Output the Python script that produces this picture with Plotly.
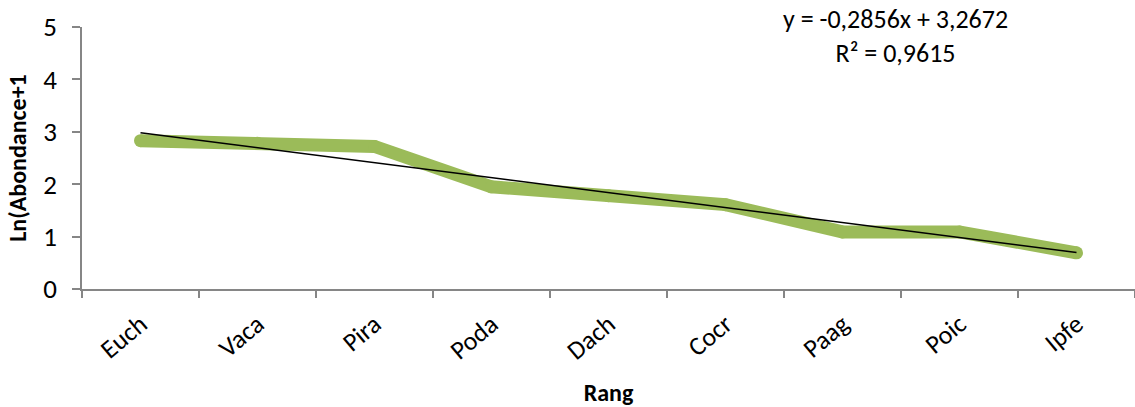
import plotly.graph_objects as go

# Species ranked by abundance
especes = ["Euch", "Vaca", "Pira", "Poda", "Dach", "Cocr", "Paag", "Poic", "Ipfe"]
ln_abondance = [2.83, 2.78, 2.72, 1.95, 1.78, 1.61, 1.09, 1.09, 0.69]

# Linear trend coefficients (y = a*x + b, x = rank 1..9)
pente = -0.2856
ordonnee = 3.2672
r2 = 0.9615

rangs = list(range(1, len(especes) + 1))
tendance = [pente * r + ordonnee for r in rangs]

police = "Carlito, Lato, 'Open Sans', sans-serif"
vert = "#9BBB59"

fig = go.Figure()
fig.add_trace(go.Scatter(
    x=especes, y=ln_abondance, mode="lines+markers",
    line=dict(color=vert, width=13),
    marker=dict(color=vert, size=13, line=dict(width=0)),
    hoverinfo="skip", showlegend=False,
))
fig.add_trace(go.Scatter(
    x=especes, y=tendance, mode="lines",
    line=dict(color="black", width=1.6),
    showlegend=False,
))

eq = f"y = {pente:.4f}x + {ordonnee:.4f}".replace(".", ",")
r2_txt = f"R² = {r2:.4f}".replace(".", ",")
fig.add_annotation(
    text=eq + "<br>" + r2_txt, xref="paper", yref="paper",
    x=(895 - 82) / (1135 - 82), y=1.10, xanchor="center", yanchor="top",
    showarrow=False, align="center",
    font=dict(family=police, size=26, color="#000"),
)

fig.update_layout(
    width=1135, height=407,
    margin=dict(l=82, r=0, t=27, b=118),
    plot_bgcolor="white", paper_bgcolor="white",
    font=dict(family=police, size=24, color="#000"),
    xaxis=dict(
        type="category", tickson="boundaries", range=[-0.5, 8.5],
        showgrid=False, showline=True, linecolor="#868686", linewidth=1.5,
        ticks="outside", ticklen=7, tickcolor="#868686", tickwidth=1.5,
        tickangle=-40, tickfont=dict(size=26), ticklabelstandoff=8,
        title=dict(text="<b>Rang</b>", font=dict(size=24), standoff=22),
    ),
    yaxis=dict(
        range=[0, 5], dtick=1, showgrid=False, zeroline=False,
        showline=True, linecolor="#868686", linewidth=1.5,
        ticks="outside", ticklen=8, tickcolor="#868686", tickwidth=1.5,
        tickfont=dict(size=27), ticklabelstandoff=10,
        title=dict(text="<b>Ln(Abondance+1</b>", font=dict(size=24), standoff=10),
    ),
)

fig.write_html("out.html")
